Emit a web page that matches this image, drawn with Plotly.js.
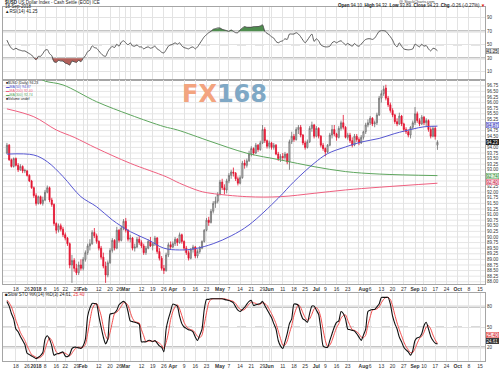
<!DOCTYPE html>
<html><head><meta charset="utf-8">
<script src="https://cdn.plot.ly/plotly-3.0.1.min.js"></script>
<style>html,body{margin:0;padding:0;background:#fff}#chart{width:500px;height:369px}</style>
</head><body><div id="chart"></div>
<script>
// ---------- DATA ----------
const dates = [
'2017-12-12','2017-12-13','2017-12-14','2017-12-15','2017-12-18','2017-12-19','2017-12-20','2017-12-21','2017-12-22','2017-12-26','2017-12-27','2017-12-28','2017-12-29',
'2018-01-02','2018-01-03','2018-01-04','2018-01-05','2018-01-08','2018-01-09','2018-01-10','2018-01-11','2018-01-12','2018-01-16','2018-01-17','2018-01-18','2018-01-19','2018-01-22','2018-01-23','2018-01-24','2018-01-25','2018-01-26','2018-01-29','2018-01-30','2018-01-31',
'2018-02-01','2018-02-02','2018-02-05','2018-02-06','2018-02-07','2018-02-08','2018-02-09','2018-02-12','2018-02-13','2018-02-14','2018-02-15','2018-02-16','2018-02-20','2018-02-21','2018-02-22','2018-02-23','2018-02-26','2018-02-27','2018-02-28',
'2018-03-01','2018-03-02','2018-03-05','2018-03-06','2018-03-07','2018-03-08','2018-03-09','2018-03-12','2018-03-13','2018-03-14','2018-03-15','2018-03-16','2018-03-19','2018-03-20','2018-03-21','2018-03-22','2018-03-23','2018-03-26','2018-03-27','2018-03-28','2018-03-29',
'2018-04-02','2018-04-03','2018-04-04','2018-04-05','2018-04-06','2018-04-09','2018-04-10','2018-04-11','2018-04-12','2018-04-13','2018-04-16','2018-04-17','2018-04-18','2018-04-19','2018-04-20','2018-04-23','2018-04-24','2018-04-25','2018-04-26','2018-04-27','2018-04-30',
'2018-05-01','2018-05-02','2018-05-03','2018-05-04','2018-05-07','2018-05-08','2018-05-09','2018-05-10','2018-05-11','2018-05-14','2018-05-15','2018-05-16','2018-05-17','2018-05-18','2018-05-21','2018-05-22','2018-05-23','2018-05-24','2018-05-25','2018-05-29','2018-05-30','2018-05-31',
'2018-06-01','2018-06-04','2018-06-05','2018-06-06','2018-06-07','2018-06-08','2018-06-11','2018-06-12','2018-06-13','2018-06-14','2018-06-15','2018-06-18','2018-06-19','2018-06-20','2018-06-21','2018-06-22','2018-06-25','2018-06-26','2018-06-27','2018-06-28','2018-06-29',
'2018-07-02','2018-07-03','2018-07-05','2018-07-06','2018-07-09','2018-07-10','2018-07-11','2018-07-12','2018-07-13','2018-07-16','2018-07-17','2018-07-18','2018-07-19','2018-07-20','2018-07-23','2018-07-24','2018-07-25','2018-07-26','2018-07-27','2018-07-30','2018-07-31',
'2018-08-01','2018-08-02','2018-08-03','2018-08-06','2018-08-07','2018-08-08','2018-08-09','2018-08-10','2018-08-13','2018-08-14','2018-08-15','2018-08-16','2018-08-17','2018-08-20','2018-08-21','2018-08-22','2018-08-23','2018-08-24','2018-08-27','2018-08-28','2018-08-29','2018-08-30','2018-08-31',
'2018-09-04','2018-09-05','2018-09-06','2018-09-07','2018-09-10','2018-09-11','2018-09-12','2018-09-13','2018-09-14','2018-09-17','2018-09-18'];

const openP = [
93.75,94.10,93.45,93.15,93.50,93.20,93.00,93.15,92.95,92.95,92.75,92.50,92.20,
91.85,91.50,91.80,91.50,91.65,92.00,92.20,91.65,91.45,90.60,90.30,90.50,90.35,90.10,89.95,89.70,88.75,88.95,88.60,88.40,88.75,
88.60,89.00,89.30,89.60,89.70,90.20,90.05,89.80,89.50,89.10,88.70,88.30,88.85,89.40,89.85,89.50,90.30,89.85,90.40,
90.70,90.30,89.90,89.95,89.50,89.55,89.90,89.75,89.60,89.30,89.50,89.80,89.60,89.70,89.95,89.35,89.05,88.60,88.50,89.20,89.65,
89.55,89.70,89.90,89.75,90.10,89.80,89.50,89.30,89.05,89.45,89.55,89.15,89.35,89.50,89.80,90.30,90.75,90.65,91.15,91.50,91.60,
91.90,92.45,92.20,92.10,92.50,92.75,92.90,92.85,92.60,92.40,92.65,93.30,93.20,93.40,93.70,93.95,93.75,94.10,93.90,94.20,94.80,94.30,
94.05,94.20,94.00,94.10,93.70,93.50,93.60,93.55,93.70,93.35,94.25,94.50,94.35,94.80,94.90,94.55,94.20,94.00,94.25,94.85,95.00,
94.50,94.85,94.50,94.10,93.95,93.80,94.10,94.55,94.80,94.60,94.45,94.85,95.10,94.90,94.45,94.55,94.30,94.10,94.50,94.35,94.20,
94.45,94.70,95.00,95.10,95.30,95.05,95.10,95.45,96.20,96.40,96.65,96.20,95.90,95.65,95.45,95.15,95.05,95.40,95.05,94.80,94.70,94.55,94.90,
95.10,95.50,95.20,95.05,95.35,95.10,95.20,94.80,94.50,94.85,94.10];

const highP = [
94.20,94.15,93.50,93.55,93.55,93.30,93.25,93.20,93.05,93.00,92.80,92.55,92.25,
91.95,91.85,91.85,91.80,92.10,92.30,92.25,91.75,91.50,90.65,90.60,90.60,90.45,90.20,90.00,89.75,89.20,89.05,88.80,88.90,89.00,
89.10,89.40,89.70,89.90,90.30,90.40,90.15,89.85,89.60,89.30,88.90,88.95,89.50,89.95,89.90,90.45,90.35,90.50,90.80,
90.85,90.35,90.10,90.00,89.70,90.00,90.05,89.85,89.70,89.60,89.90,90.00,89.75,90.05,90.00,89.50,89.15,88.75,89.30,89.75,89.80,
89.80,90.00,89.95,90.20,90.15,89.85,89.60,89.40,89.50,89.65,89.60,89.45,89.60,89.85,90.35,90.85,90.90,91.25,91.60,91.80,92.00,
92.55,92.60,92.35,92.60,92.85,93.00,93.10,92.90,92.70,92.75,93.40,93.45,93.50,93.85,94.05,94.00,94.20,94.15,94.30,95.00,94.90,94.35,
94.30,94.25,94.20,94.15,93.80,93.70,93.75,93.80,93.75,94.35,94.70,94.60,94.90,95.00,95.00,94.60,94.30,94.35,94.95,95.15,95.05,
94.95,94.90,94.55,94.20,94.00,94.15,94.65,95.00,95.00,94.65,94.95,95.20,95.45,94.95,94.65,94.65,94.45,94.60,94.60,94.45,94.55,
94.75,95.10,95.25,95.40,95.35,95.20,95.55,96.30,96.55,96.75,96.80,96.30,96.00,95.75,95.50,95.30,95.55,95.45,95.10,94.90,94.80,94.95,95.20,
95.80,95.60,95.30,95.45,95.40,95.30,95.25,94.90,94.95,94.95,94.32];

const lowP = [
93.70,93.40,93.10,93.10,93.15,92.90,92.95,92.85,92.85,92.70,92.45,92.15,91.75,
91.40,91.45,91.45,91.40,91.60,91.95,91.55,91.35,90.50,90.15,90.20,90.25,90.00,89.85,89.60,88.60,87.95,88.45,88.30,88.30,88.50,
88.50,88.90,89.20,89.40,89.65,89.95,89.70,89.40,89.00,88.60,87.95,88.20,88.80,89.30,89.40,89.45,89.75,89.80,90.30,
90.20,89.80,89.75,89.40,89.35,89.50,89.65,89.50,89.20,89.20,89.45,89.55,89.40,89.60,89.25,88.95,88.50,88.35,88.45,89.10,89.45,
89.50,89.60,89.60,89.70,89.70,89.40,89.20,88.95,89.00,89.30,89.05,89.05,89.25,89.45,89.75,90.25,90.50,90.60,91.05,91.30,91.50,
91.85,92.10,91.90,91.95,92.40,92.60,92.70,92.50,92.30,92.35,92.60,93.05,93.10,93.35,93.60,93.65,93.70,93.80,93.85,94.15,94.20,93.95,
93.95,93.90,93.90,93.65,93.40,93.35,93.40,93.45,93.25,93.00,94.15,94.25,94.30,94.60,94.45,94.10,93.90,93.95,94.20,94.70,94.40,
94.45,94.40,94.00,93.85,93.60,93.75,94.05,94.40,94.50,94.30,94.40,94.75,94.80,94.40,94.35,94.20,94.00,94.05,94.25,94.10,94.15,
94.35,94.60,94.90,95.00,94.95,94.90,95.00,95.40,96.00,96.30,96.10,95.80,95.55,95.35,95.05,94.95,95.00,94.95,94.70,94.60,94.45,94.40,94.80,
95.00,95.10,94.95,95.00,95.00,94.95,94.70,94.40,94.45,94.35,93.89];

const closeP = [
94.10,93.45,93.15,93.50,93.20,93.00,93.15,92.95,92.97,92.75,92.50,92.20,91.85,
91.50,91.80,91.50,91.65,92.00,92.20,91.65,91.45,90.60,90.30,90.50,90.35,90.10,89.95,89.70,88.75,88.95,88.60,88.40,88.75,88.60,
89.00,89.30,89.60,89.70,90.20,90.05,89.80,89.50,89.10,88.70,88.30,88.85,89.40,89.85,89.50,90.30,89.85,90.40,90.70,
90.30,89.90,89.95,89.50,89.55,89.90,89.75,89.60,89.30,89.50,89.80,89.60,89.70,89.95,89.35,89.05,88.60,88.50,89.20,89.65,89.55,
89.70,89.90,89.75,90.10,89.80,89.50,89.30,89.05,89.45,89.55,89.15,89.35,89.50,89.80,90.30,90.75,90.65,91.15,91.50,91.60,91.90,
92.45,92.20,92.10,92.50,92.75,92.90,92.85,92.60,92.40,92.65,93.30,93.20,93.40,93.70,93.95,93.75,94.10,93.90,94.20,94.80,94.30,94.05,
94.20,94.00,94.10,93.70,93.50,93.60,93.55,93.70,93.35,94.25,94.50,94.35,94.80,94.90,94.55,94.20,94.00,94.25,94.85,95.00,94.50,
94.85,94.50,94.10,93.95,93.80,94.10,94.55,94.80,94.60,94.45,94.85,95.10,94.90,94.45,94.55,94.30,94.10,94.50,94.35,94.20,94.45,
94.70,95.00,95.10,95.30,95.05,95.10,95.45,96.20,96.40,96.60,96.20,95.90,95.65,95.45,95.15,95.05,95.40,95.05,94.80,94.70,94.55,94.90,95.10,
95.50,95.20,95.05,95.35,95.10,95.20,94.80,94.50,94.85,94.49,94.23];

// moving averages (read at intervals)
const ma50Dates = ['2017-12-12','2017-12-29','2018-01-09','2018-01-19','2018-01-31','2018-02-09','2018-02-21','2018-03-05','2018-03-15','2018-03-26','2018-04-05','2018-04-16','2018-04-26','2018-05-08','2018-05-18','2018-06-07','2018-06-18','2018-06-29','2018-07-10','2018-07-20','2018-07-31','2018-08-10','2018-08-21','2018-08-31','2018-09-10','2018-09-18'];
const ma50 = [93.70,93.66,93.36,92.70,91.80,91.35,90.76,90.24,89.87,89.50,89.42,89.48,89.70,90.05,90.54,91.73,92.47,93.29,93.72,94.02,94.24,94.40,94.62,94.82,94.92,94.95];
const ma200Dates = ['2017-12-12','2017-12-29','2018-01-16','2018-01-26','2018-02-09','2018-03-05','2018-03-27','2018-04-05','2018-04-18','2018-04-25','2018-05-17','2018-06-08','2018-06-29','2018-07-20','2018-08-10','2018-09-18'];
const ma200 = [95.72,95.37,94.78,94.45,93.96,93.29,92.69,92.40,92.05,91.95,91.80,91.80,91.95,92.10,92.22,92.40];
const ma300Dates = ['2017-12-12','2018-01-02','2018-01-08','2018-01-19','2018-02-09','2018-03-05','2018-03-26','2018-04-04','2018-04-25','2018-05-17','2018-06-08','2018-06-29','2018-07-20','2018-08-10','2018-09-18'];
const ma300 = [97.45,97.15,96.96,96.79,96.04,95.45,94.93,94.78,94.26,93.74,93.44,93.14,92.92,92.81,92.74];

const rsi14 = [
57,50,45,43,45,43,42,41,41,39,37,35,31,
28,33,33,37,42,43,37,34,25,24,27,26,26,23,22,20,26,25,24,27,25,
30,34,40,42,48.5,46,45,41,37,34,33,40,45,47.5,46,51,48,54,56,
53,50,53,48.5,48,50,47,47,44,46,47,45,46,48,44,42,39,38,42.6,48,50,
51,53,51,53,48.5,46,45,44,46,47,44,47,52,57,62,65,68,70,73,74,75,
75,73,72,71,70,72,70,68,68,72,75,77,76,76,76,77,77,77,78,79.6,70,67,
65,62,60,55,53,55,56,59,58,66,66,66,68,66,62,57,53,57,62,66,55,
59,56,50,48,47,47,48,53,55,53,55,56,53,50,52,50,48,52,49,48,51,
55,58,59,59,58,60,65,70,71,71,70,66,62,57,50,47,53,48,44,43,42.6,43,44,
51,49,47,51,48,49,44,41,45,44,41.25];

const stoK = [
88,81,70,62,47,43,36,30,24,11,9,7,5,
3,5,7.5,12,32,37,32,22,8,10,10.5,12,13,7,6,9,18,20,20,19,18,
22,32,66,78,85,85,84,66,50,35,25,32,69,70,71,75,83,86,88,
85,73,59,58,57,56,54,28,28,28,30,30,28,30,26,22,20,13,47,62,73,
84,83,81,66,55,50,48,46,45,42.7,35,30,38,47,76,91,91,92,92,92,92,
92,92,91,90,89.5,88,86,80,75,73,76,79,84,88,89.5,82,83,84,85,88,82,76,
70,64,55,47,30,22,18,28,40,55,62,84,84,82,70,62,60,57,70,81,81,
75,69,47,22,20,20,30,40,50,57,59,73,70,62,47,46,45,44,40,35,30,
38,47,73,75,76,76,80,84,94,94,94,94,84,66,55,47,35,28,20,16,13,8,15,
30,34,35,40,52,57,47,36,30,26,24.61];

const stoD = [
90,86,80,71,60,51,42,36,30,22,15,9,7,
5,4,5,8,17,27,34,30,21,13,10,11,12,11,9,7,11,16,19,20,19,
20,24,40,59,76,83,85,78,67,50,37,31,42,57,70,72,76,81,86,
86,82,72,63,58,57,56,46,37,28,29,29,29,29,28,26,23,18,27,41,61,
73,80,83,77,67,57,51,48,46,45,41,36,34,38,54,71,86,91,92,92,92,
92,92,92,91,90,89,88,85,80,76,75,76,80,84,87,86,85,83,84,86,85,82,
76,70,63,55,44,33,23,23,29,41,52,67,77,83,79,71,64,60,62,69,77,
79,75,64,46,30,21,23,30,40,49,55,63,67,68,60,52,46,45,43,40,35,
34,38,53,65,75,76,77,80,86,91,94,94,91,81,68,56,46,37,28,21,16,12,12,
18,26,33,36,42,50,52,47,38,31,25.40];

const tickDates = ['2017-12-18','2017-12-26','2018-01-02','2018-01-08','2018-01-16','2018-01-22','2018-01-29','2018-02-01','2018-02-05','2018-02-12','2018-02-20','2018-02-26','2018-03-01','2018-03-05','2018-03-12','2018-03-19','2018-03-26','2018-04-02','2018-04-09','2018-04-16','2018-04-23','2018-05-01','2018-05-07','2018-05-14','2018-05-21','2018-05-29','2018-06-01','2018-06-04','2018-06-11','2018-06-18','2018-06-25','2018-07-02','2018-07-09','2018-07-16','2018-07-23','2018-07-30','2018-08-01','2018-08-06','2018-08-13','2018-08-20','2018-08-27','2018-09-04','2018-09-10','2018-09-17','2018-09-24','2018-10-01','2018-10-08','2018-10-15'];
const tickLabels = ['18','26','<b>2018</b>','8','16','22','29','<b>Feb</b>','','12','20','26','<b>Mar</b>','','12','19','26','<b>Apr</b>','9','16','23','<b>May</b>','7','14','21','29','<b>Jun</b>','','11','18','25','<b>Jul</b>','9','16','23','','<b>Aug</b>','6','13','20','27','<b>Sep</b>','10','17','24','<b>Oct</b>','8','15'];
const priceTicks = [88.00,88.25,88.50,88.75,89.00,89.25,89.50,89.75,90.00,90.25,90.50,90.75,91.00,91.25,91.50,91.75,92.00,92.25,93.00,93.25,93.50,93.75,94.00,94.50,94.75,95.25,95.50,95.75,96.00,96.25,96.50,96.75];
const priceGrid = [88.00,88.25,88.50,88.75,89.00,89.25,89.50,89.75,90.00,90.25,90.50,90.75,91.00,91.25,91.50,91.75,92.00,92.25,92.50,92.75,93.00,93.25,93.50,93.75,94.00,94.25,94.50,94.75,95.00,95.25,95.50,95.75,96.00,96.25,96.50,96.75];
const holidays = ['2017-12-25','2018-01-01','2018-01-15','2018-02-19','2018-03-30','2018-05-28','2018-07-04','2018-09-03'];

// ---------- CHART ----------
const noon = d => d + ' 12:00';
const X = dates.map(noon);
const FONT = 'Liberation Sans, Arial, sans-serif';
const BOT = 361;
const py = v => (BOT - v) / (BOT - 7);   // pixel row -> paper y
const px = v => (v - 3) / 482;          // pixel col -> paper x

const C50 = '#5656d2', C200 = '#ef5f7f', C300 = '#5ea65e';

const traces = [
  {x: X, y: X.map(() => 70), xaxis: 'x', yaxis: 'y', mode: 'lines', line: {width: 0}, hoverinfo: 'skip'},
  {x: X, y: rsi14.map(v => Math.max(v, 70)), xaxis: 'x', yaxis: 'y', mode: 'lines', line: {width: 0}, fill: 'tonexty', fillcolor: '#4f8d4f'},
  {x: X, y: X.map(() => 30), xaxis: 'x', yaxis: 'y', mode: 'lines', line: {width: 0}},
  {x: X, y: rsi14.map(v => Math.min(v, 30)), xaxis: 'x', yaxis: 'y', mode: 'lines', line: {width: 0}, fill: 'tonexty', fillcolor: '#b3605a'},
  {x: X, y: rsi14, xaxis: 'x', yaxis: 'y', mode: 'lines', line: {color: '#4a4a4a', width: 0.9, shape: 'spline', smoothing: 0.6}},
  {type: 'candlestick', x: X, open: openP, high: highP, low: lowP, close: closeP, xaxis: 'x2', yaxis: 'y2',
   increasing: {line: {color: '#6d6d6d', width: 0.8}, fillcolor: '#d2d2d2'},
   decreasing: {line: {color: '#e3122f', width: 0.8}, fillcolor: '#e3122f'}, whiskerwidth: 0},
  {x: ma300Dates.map(noon), y: ma300, xaxis: 'x2', yaxis: 'y2', mode: 'lines', line: {color: C300, width: 1, shape: 'spline'}},
  {x: ma200Dates.map(noon), y: ma200, xaxis: 'x2', yaxis: 'y2', mode: 'lines', line: {color: C200, width: 1, shape: 'spline'}},
  {x: ma50Dates.map(noon), y: ma50, xaxis: 'x2', yaxis: 'y2', mode: 'lines', line: {color: C50, width: 1, shape: 'spline'}},
  {x: X, y: stoD, xaxis: 'x3', yaxis: 'y3', mode: 'lines', line: {color: '#f03a3a', width: 0.9, shape: 'spline', smoothing: 0.6}},
  {x: X, y: stoK, xaxis: 'x3', yaxis: 'y3', mode: 'lines', line: {color: '#111', width: 1.1, shape: 'spline', smoothing: 0.6}}
];

const breaks = [{bounds: ['sat', 'mon']}, {values: holidays}];
const xRange = ['2017-12-08 18:00', '2018-10-17 17:00'];
const xBase = () => ({type: 'date', range: xRange, rangebreaks: breaks, tickmode: 'array',
  tickvals: tickDates.map(noon), ticktext: tickLabels, tickangle: 0, showgrid: true, gridcolor: '#e3e3e3', gridwidth: 1,
  showline: true, mirror: true, linecolor: '#a5a5a5', linewidth: 1, ticks: '', zeroline: false,
  tickfont: {size: 5, color: '#333', family: FONT}, fixedrange: true});
const yBase = () => ({side: 'right', showgrid: true, gridcolor: '#e3e3e3', zeroline: false, showline: true,
  mirror: true, linecolor: '#a5a5a5', linewidth: 1, ticks: '', tickfont: {size: 4.5, color: '#333', family: FONT}, fixedrange: true});

const hline = (yref, y, w, dash, col) => ({type: 'line', xref: 'paper', x0: 0, x1: 1, yref: yref, y0: y, y1: y,
  line: {color: col || '#b2b2b2', width: w, dash: dash || 'solid'}, layer: 'below'});

const tag = (yref, y, text, fg, bg, bd, ys) => ({xref: 'paper', x: 1, xanchor: 'left', xshift: 1, yref: yref, y: y,
  yshift: ys || 0, text: text, showarrow: false, font: {size: 4.5, color: fg, family: FONT}, bgcolor: bg,
  bordercolor: bd, borderwidth: 0.5, borderpad: 0});
const txt = (x, y, text, size, anchor, color) => ({xref: 'paper', yref: 'paper', x: px(x), y: py(y), xanchor: anchor || 'left',
  yanchor: 'middle', text: text, showarrow: false, font: {size: size, color: color || '#222', family: FONT}});

const shapes = [hline('y', 70, 2), hline('y', 30, 2), hline('y', 50, 1, 'dash'),
                hline('y3', 80, 2), hline('y3', 20, 2), hline('y3', 50, 1, 'dash')];
priceGrid.forEach(v => shapes.push(hline('y2', v, 1, 'solid', '#e6e6e6')));

const layout = {
  width: 500, height: 369, margin: {l: 3, r: 15, t: 7, b: 369 - BOT},
  paper_bgcolor: '#fff', plot_bgcolor: '#fff', showlegend: false, font: {family: FONT},
  xaxis: Object.assign(xBase(), {anchor: 'y', showticklabels: false}),
  xaxis2: Object.assign(xBase(), {anchor: 'y2', rangeslider: {visible: false}}),
  xaxis3: Object.assign(xBase(), {anchor: 'y3'}),
  yaxis: Object.assign(yBase(), {domain: [py(80), 1], range: [-2, 106], tickmode: 'array', tickvals: [10, 30, 50, 70, 90]}),
  yaxis2: Object.assign(yBase(), {domain: [py(284), py(80)], range: [87.90, 97.01], tickmode: 'array',
    tickvals: priceTicks, ticktext: priceTicks.map(v => v.toFixed(2)), showgrid: false}),
  yaxis3: Object.assign(yBase(), {domain: [0, py(293)], range: [-0.5, 100.5], tickmode: 'array', tickvals: [20, 50, 80]}),
  shapes: shapes,
  annotations: [
    txt(3, 2.3, '<b>$USD</b> US Dollar Index - Cash Settle (EOD) ICE', 4.5),
    txt(3, 6.3, '18-Sep-2018', 4.5),
    txt(3, 11, '▲RSI(14) 41.25', 4.5),
    txt(437, 1.6, '@ StockCharts.com', 4, 'right', '#444'),
    txt(487, 5.6, '<b>Open</b> 94.10  <b>High</b> 94.32  <b>Low</b> 93.89  <b>Close</b> 94.23  <b>Chg</b> -0.26 (-0.27%) <span style="color:#e01010">▼</span>', 4.5, 'right'),
    txt(4, 82.6, '■$USD (Daily) 94.23', 3.5),
    txt(4, 86.8, '<span style="color:' + C50 + '">▬MA(50) 94.87</span>', 3.5),
    txt(4, 91.0, '<span style="color:' + C200 + '">▬MA(200) 92.40</span>', 3.5),
    txt(4, 95.2, '<span style="color:' + C300 + '">▬MA(300) 92.74</span>', 3.5),
    txt(4, 99.4, '■Volume undef', 3.5),
    {xref: 'paper', yref: 'paper', x: px(224), y: py(93.5), xanchor: 'center', yanchor: 'middle', showarrow: false,
     text: '<b><span style="color:#f3a47f">FX</span><span style="color:#7fa8c5">168</span></b>',
     font: {size: 24, family: 'DejaVu Sans, sans-serif'}},
    txt(3, 294.5, '■Slow STO %K(14) %D(3) 24.61, <span style="color:#f03a3a">25.40</span>', 4.5),
    tag('y', 41.25, '41.25', '#222', '#e2e2e2', '#777'),
    tag('y2', 94.99, '94.87', '#3030b0', '#dcdcf7', C50),
    tag('y2', 94.23, '94.23', '#fff', '#111', '#111'),
    tag('y2', 92.74, '92.74', '#2e7d2e', '#dbf0db', C300),
    tag('y2', 92.45, '92.40', '#c0163a', '#fadbe2', C200),
    tag('y3', 25.40, '25.40', '#d01010', '#fbe0e0', '#e03030', 9),
    tag('y3', 24.61, '24.61', '#fff', '#222', '#222', 3)
  ]
};

Plotly.newPlot('chart', traces, layout, {staticPlot: true, displayModeBar: false});
</script>
</body></html>
